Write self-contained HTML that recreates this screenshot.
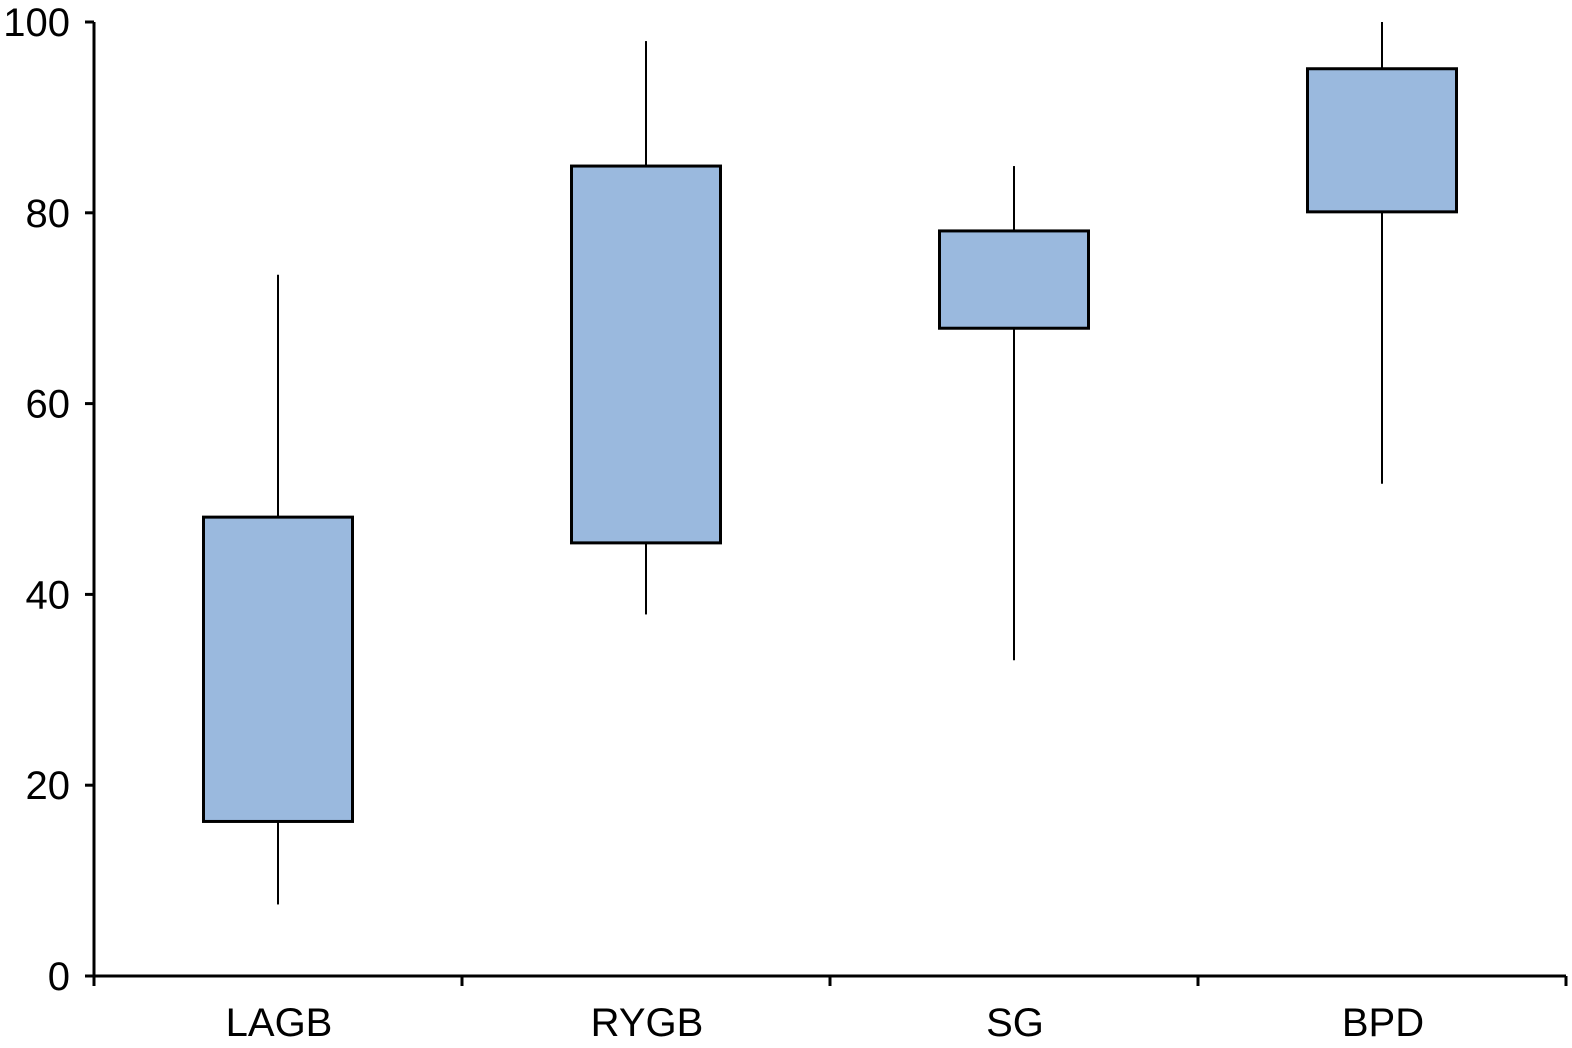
<!DOCTYPE html>
<html><head><meta charset="utf-8"><style>
html,body{margin:0;padding:0;background:#fff;}
svg{display:block;font-family:"Liberation Sans",Arial,sans-serif;}
</style></head><body>
<svg id="chart" width="1572" height="1048" viewBox="0 0 1572 1048" xmlns="http://www.w3.org/2000/svg"></svg>
<script>
const categories = ["LAGB", "RYGB", "SG", "BPD"];
const whiskerHigh = [73.5, 98, 84.9, 100];
const boxHigh = [48.1, 84.9, 78.1, 95.1];
const boxLow = [16.2, 45.4, 67.9, 80.1];
const whiskerLow = [7.5, 37.9, 33.1, 51.6];
const yTicks = [0, 20, 40, 60, 80, 100];

const svg = document.getElementById('chart');
const NS = 'http://www.w3.org/2000/svg';
const x0 = 94, x1 = 1566, yBase = 976, yTop = 22;
const yMax = 100;
const band = (x1 - x0) / categories.length;
const boxW = 149;
function y(v){ return yBase - (v / yMax) * (yBase - yTop); }
function xc(i){ return x0 + band * (i + 0.5); }
function mk(tag, attrs, parent){
  const e = document.createElementNS(NS, tag);
  for (const k in attrs) e.setAttribute(k, attrs[k]);
  (parent || svg).appendChild(e);
  return e;
}

categories.forEach((c, i) => {
  const g = mk('g', {});
  
  
  const wu = mk('line', {x1: xc(i), x2: xc(i), y1: y(whiskerHigh[i]), y2: y(boxHigh[i]), stroke: '#000', 'stroke-width': 2}, g);
  
  
  const wl = mk('line', {x1: xc(i), x2: xc(i), y1: y(boxLow[i]), y2: y(whiskerLow[i]), stroke: '#000', 'stroke-width': 2}, g);
  
  
  const r = mk('rect', {x: xc(i) - boxW / 2, y: y(boxHigh[i]), width: boxW, height: y(boxLow[i]) - y(boxHigh[i]), fill: '#9ab9de', stroke: '#000', 'stroke-width': 3}, g);
  
  
});

const ax = mk('line', {x1: x0, x2: x0, y1: yTop, y2: yBase + 1, stroke: '#000', 'stroke-width': 3});


const xx = mk('line', {x1: x0 - 1, x2: x1, y1: yBase, y2: yBase, stroke: '#000', 'stroke-width': 3});



yTicks.forEach(t => {
  const tk = mk('line', {x1: x0 - 9, x2: x0, y1: y(t), y2: y(t), stroke: '#000', 'stroke-width': 3});
  
  
  const tx = mk('text', {x: 70, y: y(t) + 14, 'text-anchor': 'end', 'font-size': 40, fill: '#000'});
  tx.textContent = t;
  
  
});

for (let i = 0; i <= categories.length; i++) {
  const xt = x0 + band * i;
  const tk = mk('line', {x1: xt, x2: xt, y1: yBase, y2: yBase + 10, stroke: '#000', 'stroke-width': 3});
  
  
}
categories.forEach((c, i) => {
  const tx = mk('text', {x: xc(i) + 1, y: 1036, 'text-anchor': 'middle', 'font-size': 40, fill: '#000'});
  tx.textContent = c;
  
  
});
</script>
</body></html>
